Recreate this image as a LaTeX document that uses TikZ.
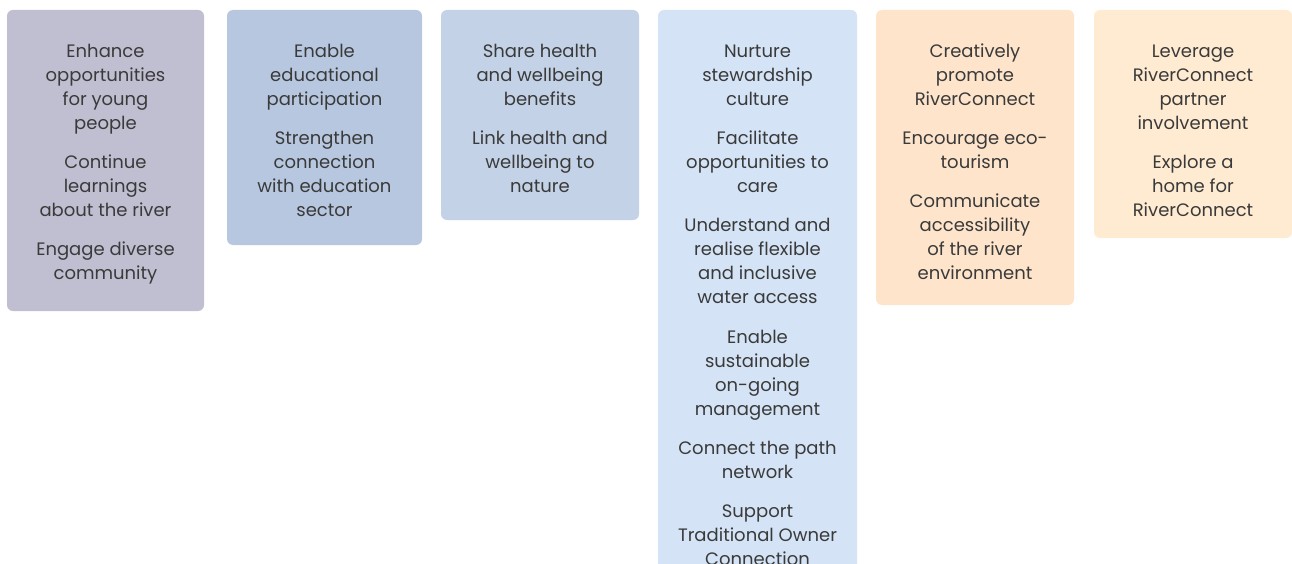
\documentclass[tikz,border=0pt]{standalone}
\usepackage{fontspec}
\setmainfont{Poppins}
\definecolor{cA}{HTML}{C0BED1}
\definecolor{cB}{HTML}{B7C7DF}
\definecolor{cC}{HTML}{C3D2E6}
\definecolor{cD}{HTML}{D4E3F5}
\definecolor{cE}{HTML}{FDE4CB}
\definecolor{cF}{HTML}{FFEBD2}
\definecolor{textc}{HTML}{3A3A3A}
\begin{document}
\begin{tikzpicture}[x=1pt,y=-1pt,
  box/.style={rounded corners=6pt},
  txt/.style={align=center, anchor=north, inner sep=0pt, font=\fontsize{18}{24}\selectfont, text=textc}]
\useasboundingbox (0,0) rectangle (1292,564);
\clip (0,0) rectangle (1292,564);
\fill[box, cA] (7,10) rectangle (204,311);
\fill[box, cB] (227,10) rectangle (422,245);
\fill[box, cC] (441,10) rectangle (639,220);
\fill[box, cD] (658,10) rectangle (857,620);
\fill[box, cE] (876,10) rectangle (1074,305);
\fill[box, cF] (1094,10) rectangle (1292,238);
\node[txt] (t1) at (105.5,40.4) {\strut Enhance\\opportunities\\for young\\people\\[15.2pt]Continue\\learnings\\about the river\\[15.2pt]Engage diverse\\community};
\node[txt] (t2) at (324.5,40.4) {\strut Enable\\educational\\participation\\[15.2pt]Strengthen\\connection\\with education\\sector};
\node[txt] (t3) at (540,40.4) {\strut Share health\\and wellbeing\\benefits\\[15.2pt]Link health and\\wellbeing to\\nature};
\node[txt] (t4) at (757.5,40.4) {\strut Nurture\\stewardship\\culture\\[15.2pt]Facilitate\\opportunities to\\care\\[15.2pt]Understand and\\realise flexible\\and inclusive\\water access\\[15.2pt]Enable\\sustainable\\on-going\\management\\[15.2pt]Connect the path\\network\\[15.2pt]Support\\Traditional Owner\\Connection};
\node[txt] (t5) at (975,40.4) {\strut Creatively\\promote\\RiverConnect\\[15.2pt]Encourage eco-\\tourism\\[15.2pt]Communicate\\accessibility\\of the river\\environment};
\node[txt] (t6) at (1193,40.4) {\strut Leverage\\RiverConnect\\partner\\involvement\\[15.2pt]Explore a\\home for\\RiverConnect};
\end{tikzpicture}
\end{document}
